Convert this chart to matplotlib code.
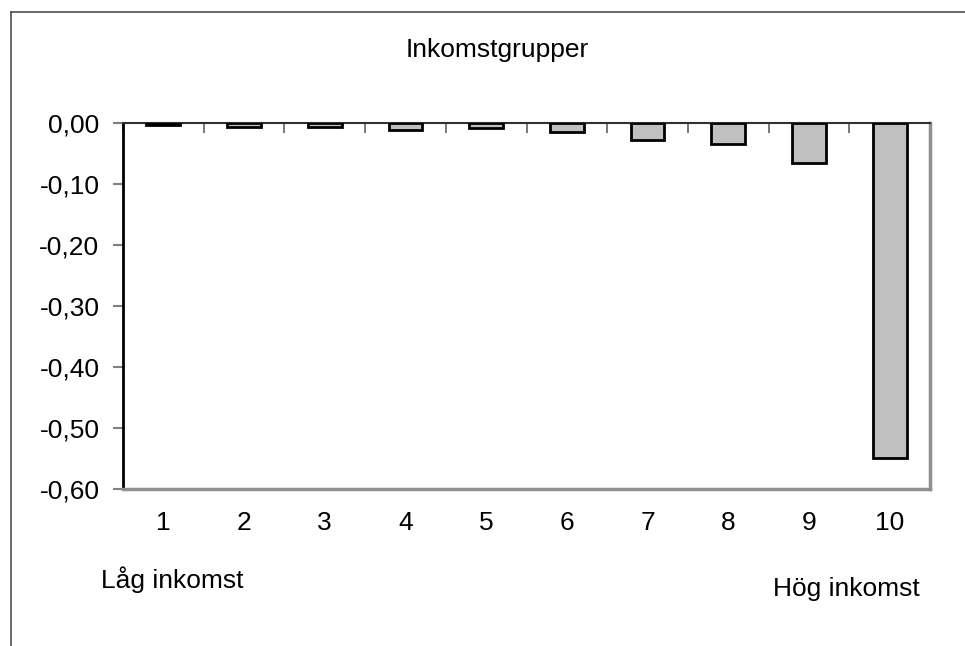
import matplotlib.pyplot as plt
from matplotlib.lines import Line2D
from matplotlib.ticker import FuncFormatter, FixedLocator

plt.rcParams['font.family'] = ['Liberation Sans', 'DejaVu Sans']

# Данные
grupper = ['1', '2', '3', '4', '5', '6', '7', '8', '9', '10']
varden = [-0.004, -0.0066, -0.0066, -0.011, -0.008, -0.015, -0.0285, -0.034, -0.065, -0.549]
y_ticks = [0.0, -0.1, -0.2, -0.3, -0.4, -0.5, -0.6]

fs = 19

fig = plt.figure(figsize=(9.65, 6.46), dpi=100)
ax = fig.add_axes([123 / 965, 1 - 489 / 646, (930 - 123) / 965, (489 - 123) / 646])

x = list(range(len(grupper)))
ax.bar(x, varden, width=0.42, color='#c0c0c0', edgecolor='black', linewidth=2, zorder=3)

ax.set_xlim(-0.5, len(grupper) - 0.5)
ax.set_ylim(-0.6, 0.0)

# Ось Y
ax.set_yticks(y_ticks)
ax.yaxis.set_major_formatter(FuncFormatter(lambda v, p: f'{v:.2f}'.replace('.', ',').replace('-0,00', '0,00')))
ax.tick_params(axis='y', direction='out', length=7, width=1.5, color='#808080', pad=10, labelsize=fs)

# Ось X: подписи снизу, засечки на нулевой линии
ax.set_xticks(x)
ax.set_xticklabels(grupper)
ax.tick_params(axis='x', which='major', length=0, pad=16, labelsize=fs)
ax.xaxis.set_minor_locator(FixedLocator([i - 0.5 for i in range(len(grupper) + 1)]))
ax.tick_params(axis='x', which='minor', top=True, bottom=False, direction='in', length=7, width=1.2, color='#606060')

ax.spines['left'].set_color('black')
ax.spines['left'].set_linewidth(2)
ax.spines['top'].set_color('#303030')
ax.spines['top'].set_linewidth(1.5)
ax.spines['bottom'].set_color('#909090')
ax.spines['bottom'].set_linewidth(2.5)
ax.spines['right'].set_color('#909090')
ax.spines['right'].set_linewidth(2.5)

# Подписи
fig.text(497 / 965, 1 - 50 / 646, 'Inkomstgrupper', ha='center', va='center', fontsize=fs)
fig.text(172 / 965, 1 - 588 / 646, 'Låg inkomst', ha='center', va='baseline', fontsize=fs)
fig.text(846 / 965, 1 - 596 / 646, 'Hög inkomst', ha='center', va='baseline', fontsize=fs)

# Рамка
fig.add_artist(Line2D([10.5 / 965, 10.5 / 965], [0, 1 - 12 / 646], color='#505050', linewidth=1.2))
fig.add_artist(Line2D([10.5 / 965, 1], [1 - 12 / 646, 1 - 12 / 646], color='#505050', linewidth=1.2))

plt.savefig('out.png', dpi=100)
